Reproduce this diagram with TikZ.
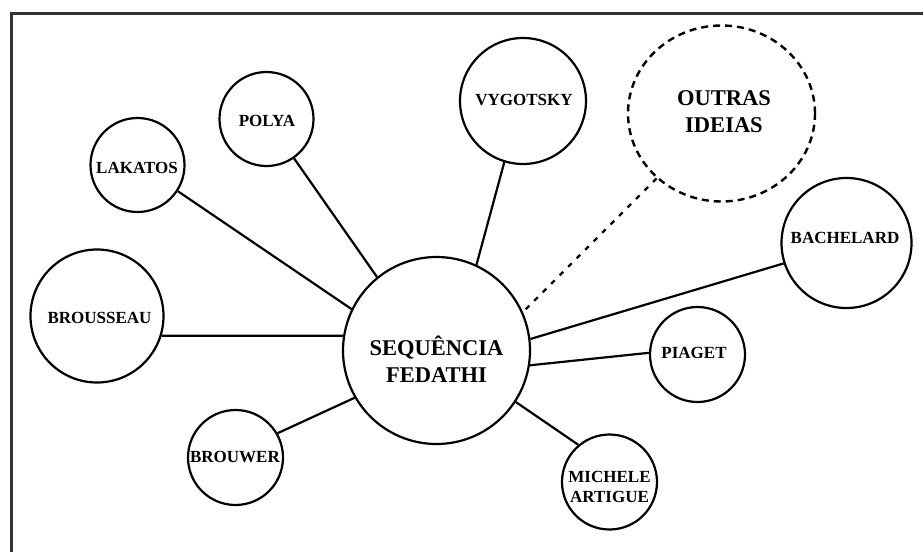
\documentclass[tikz,border=0pt]{standalone}
\usepackage{fontspec}
\setmainfont{Liberation Serif}
\usetikzlibrary{shapes.geometric}
\tikzset{
  bubble/.style={circle, draw=black, line width=2.2pt, inner sep=0pt, fill=white},
  lbl/.style={font=\bfseries\fontsize{17}{20}\selectfont, align=center, inner sep=0pt},
  biglbl/.style={font=\bfseries\fontsize{22.5}{27}\selectfont, align=center, inner sep=0pt},
  link/.style={draw=black, line width=2.2pt},
  dlink/.style={draw=black, line width=2.4pt, dash pattern=on 5pt off 7pt},
  frame/.style={draw=black!80, line width=2.5pt}
}
\begin{document}
\begin{tikzpicture}[x=1pt,y=-1pt]
\useasboundingbox (0,0) rectangle (923,552);
\fill[white] (0,0) rectangle (923,552);
\coordinate (fr1) at (923,13.5);
\coordinate (fr2) at (11.5,13.5);
\coordinate (fr3) at (11.5,552);
\draw[frame] (fr1) -- (fr2) -- (fr3);

% circles
\node[bubble, minimum size=187pt] (c) at (436.5,350.5) {};
\node[bubble, minimum size=94pt] (lak) at (137.5,165) {};
\node[bubble, minimum size=94pt] (pol) at (266.5,119) {};
\node[bubble, minimum size=126pt] (vyg) at (523,101) {};
\node[ellipse, draw=black, line width=2.4pt, dash pattern=on 7pt off 5pt, inner sep=0pt,
      minimum width=187pt, minimum height=176pt] (out) at (721.5,113.5) {};
\node[bubble, minimum size=130pt] (bac) at (846.5,243) {};
\node[bubble, minimum size=133pt] (bro) at (97,316) {};
\node[bubble, minimum size=95pt] (brw) at (235.5,457.5) {};
\node[bubble, minimum size=95pt] (pia) at (697.5,354.5) {};
\node[bubble, minimum size=95pt] (mic) at (609.5,482) {};

% labels
\node[biglbl] (tc) at (436.5,359.5) {SEQUÊNCIA\\FEDATHI};
\node[lbl] (tlak) at (137,168) {LAKATOS};
\node[lbl] (tpol) at (267,121) {POLYA};
\node[lbl] (tvyg) at (524,100) {VYGOTSKY};
\node[biglbl] (tout) at (724,111.5) {OUTRAS\\IDEIAS};
\node[lbl] (tbac) at (845,238) {BACHELARD};
\node[lbl] (tbro) at (99.5,318) {BROUSSEAU};
\node[lbl] (tbrw) at (235,457) {BROUWER};
\node[lbl] (tpia) at (694,353) {PIAGET};
\node[lbl] (tmic) at (609.5,487) {MICHELE\\ARTIGUE};

% connectors
\draw[link] (lak.-33.4) -- (c.154.1);
\draw[link] (pol.-55.2) -- (c.129.9);
\draw[link] (vyg.-107.9) -- (c.65.8);
\draw[link] (bro.-17.6) -- (c.171.6);
\draw[link] (brw.30) -- (c.-150.7);
\draw[link] (mic.130.3) -- (c.-33.6);
\draw[link] (pia.178) -- (c.-9.4);
\draw[link] (bac.-162.8) -- (c.7.8);
\draw[dlink] (out.-135) -- (c.24.2);
\end{tikzpicture}
\end{document}
